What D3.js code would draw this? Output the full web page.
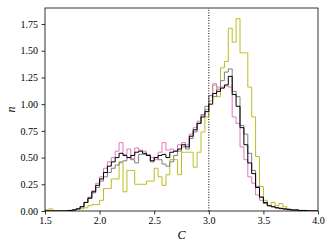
<!DOCTYPE html>
<html>
<head>
<meta charset="utf-8">
<script src="https://cdn.jsdelivr.net/npm/d3@7"></script>
<style>
  body { margin: 0; background: #fff; }
  svg { display: block; }
</style>
</head>
<body>
<div id="chart"></div>
<script>
var w = 332;
var h = 247;
var margin = { top: 8, right: 14, bottom: 36, left: 45 };

// histogram bins: 70 equal bins between 1.5 and 4.0
var binLo = 1.5;
var binHi = 4.0;
var nBins = 70;

var xTicks = [1.5, 2.0, 2.5, 3.0, 3.5, 4.0];
var yTicks = [0, 0.25, 0.5, 0.75, 1.0, 1.25, 1.5, 1.75];
var cutLine = 3.0;

// series values (density per bin)
var blackVals = [
  0, 0, 0, 0, 0, 0, 0.005, 0.01, 0.02, 0.04,
  0.08, 0.12, 0.18, 0.24, 0.30, 0.36, 0.42, 0.46, 0.50, 0.54,
  0.52, 0.50, 0.52, 0.55, 0.56, 0.54, 0.52, 0.47, 0.50, 0.52,
  0.53, 0.50, 0.55, 0.56, 0.58, 0.62, 0.60, 0.70, 0.76, 0.82,
  0.88, 0.93, 1.00, 1.10, 1.12, 1.15, 1.18, 1.26, 1.09, 0.98,
  0.78, 0.62, 0.45, 0.35, 0.22, 0.13, 0.08, 0.05, 0.04, 0.03,
  0.025, 0.02, 0.015, 0.01, 0.01, 0.005, 0.005, 0, 0, 0
];
var grayVals = [
  0, 0, 0, 0, 0, 0, 0.005, 0.01, 0.02, 0.04,
  0.08, 0.12, 0.17, 0.22, 0.28, 0.32, 0.36, 0.40, 0.43, 0.46,
  0.47, 0.50, 0.48, 0.45, 0.53, 0.53, 0.52, 0.46, 0.50, 0.48,
  0.44, 0.42, 0.46, 0.52, 0.56, 0.60, 0.58, 0.68, 0.74, 0.82,
  0.90, 0.98, 1.08, 1.07, 1.14, 1.22, 1.30, 1.33, 1.12, 1.07,
  0.80, 0.72, 0.54, 0.38, 0.23, 0.13, 0.07, 0.05, 0.04, 0.03,
  0.025, 0.02, 0.015, 0.01, 0.01, 0.005, 0.005, 0.005, 0, 0
];
var pinkVals = [
  0, 0, 0, 0, 0, 0.005, 0.005, 0.01, 0.02, 0.04,
  0.08, 0.13, 0.19, 0.26, 0.32, 0.40, 0.46, 0.50, 0.56, 0.64,
  0.53, 0.58, 0.49, 0.59, 0.57, 0.56, 0.53, 0.50, 0.48, 0.55,
  0.64, 0.57, 0.58, 0.56, 0.62, 0.64, 0.62, 0.72, 0.78, 0.84,
  0.90, 0.95, 1.08, 1.19, 1.16, 1.16, 1.17, 1.16, 0.88, 0.82,
  0.60, 0.48, 0.32, 0.26, 0.15, 0.10, 0.07, 0.05, 0.04, 0.03,
  0.02, 0.015, 0.01, 0.005, 0.005, 0, 0, 0, 0, 0
];
var oliveVals = [
  0.01, 0.02, 0, 0, 0, 0, 0.005, 0.01, 0.02, 0.02,
  0.03, 0.05, 0.06, 0.06, 0.10, 0.21, 0.21, 0.30, 0.30, 0.45,
  0.18, 0.38, 0.38, 0.25, 0.25, 0.25, 0.28, 0.28, 0.40, 0.32,
  0.24, 0.34, 0.48, 0.48, 0.34, 0.55, 0.55, 0.55, 0.41, 0.55,
  0.74, 0.88, 1.03, 1.18, 1.07, 1.34, 1.40, 1.71, 1.58, 1.80,
  1.48, 1.48, 1.16, 0.88, 0.51, 0.23, 0.10, 0.05, 0.08, 0.05,
  0.07, 0.04, 0.02, 0.01, 0.01, 0.005, 0, 0, 0, 0
];

var series = [
  { vals: oliveVals, color: "#bcbd22" },
  { vals: pinkVals, color: "#e377c2" },
  { vals: grayVals, color: "#7f7f7f" },
  { vals: blackVals, color: "#000000" }
];

var x = d3.scaleLinear().domain([1.5, 4.0]).range([margin.left, w - margin.right]);
var y = d3.scaleLinear().domain([0, 1.9]).range([h - margin.bottom, margin.top]);

var edges = d3.range(nBins + 1).map(function (i) {
  return binLo + (i * (binHi - binLo)) / nBins;
});

var svg = d3.select("#chart").append("svg")
  .attr("width", w)
  .attr("height", h);

svg.append("clipPath").attr("id", "clip")
  .append("rect")
  .attr("x", margin.left)
  .attr("y", margin.top)
  .attr("width", w - margin.left - margin.right)
  .attr("height", h - margin.top - margin.bottom);

// step outline like histtype='step'
var stepLine = d3.line()
  .x(function (d) { return x(d[0]); })
  .y(function (d) { return y(d[1]); })
  .curve(d3.curveStepAfter);

function stepPoints(vals) {
  var pts = [[edges[0], 0]];
  vals.forEach(function (v, i) { pts.push([edges[i], v]); });
  pts.push([edges[nBins], vals[nBins - 1]]);
  pts.push([edges[nBins], 0]);
  return pts;
}

svg.append("g").attr("clip-path", "url(#clip)")
  .selectAll("path")
  .data(series)
  .enter()
  .append("path")
  .attr("d", function (d) { return stepLine(stepPoints(d.vals)); })
  .attr("fill", "none")
  .attr("stroke", function (d) { return d.color; })
  .attr("stroke-width", 1)
  .attr("stroke-linejoin", "miter");

// dotted line at C = 3
svg.append("line")
  .attr("x1", x(cutLine))
  .attr("x2", x(cutLine))
  .attr("y1", y(0))
  .attr("y2", margin.top)
  .attr("stroke", "#000")
  .attr("stroke-width", 1)
  .attr("stroke-dasharray", "1,1.6");

// axes
var fontFam = "'Liberation Serif', 'DejaVu Serif', serif";

var xAxis = svg.append("g")
  .attr("transform", "translate(0," + (h - margin.bottom) + ")")
  .call(d3.axisBottom(x).tickValues(xTicks).tickFormat(d3.format(".1f")).tickSize(3.5).tickPadding(2.5));

var yAxis = svg.append("g")
  .attr("transform", "translate(" + margin.left + ",0)")
  .call(d3.axisLeft(y).tickValues(yTicks).tickFormat(d3.format(".2f")).tickSize(3.5).tickPadding(3.5));

[xAxis, yAxis].forEach(function (g) {
  g.select(".domain").remove();
  g.selectAll("line").attr("stroke", "#000").attr("stroke-width", 0.8);
  g.selectAll("text")
    .attr("font-family", fontFam)
    .attr("font-size", 10)
    .attr("fill", "#000");
});

// frame
svg.append("rect")
  .attr("x", margin.left)
  .attr("y", margin.top)
  .attr("width", w - margin.left - margin.right)
  .attr("height", h - margin.top - margin.bottom)
  .attr("fill", "none")
  .attr("stroke", "#000")
  .attr("stroke-width", 0.8);

// axis labels
svg.append("text")
  .text("C")
  .attr("x", (margin.left + w - margin.right) / 2)
  .attr("y", 239)
  .attr("text-anchor", "middle")
  .attr("font-family", fontFam)
  .attr("font-style", "italic")
  .attr("font-size", 12);

svg.append("text")
  .text("n")
  .attr("transform", "translate(15," + (margin.top + h - margin.bottom) / 2 + ") rotate(-90)")
  .attr("text-anchor", "middle")
  .attr("font-family", fontFam)
  .attr("font-style", "italic")
  .attr("font-size", 12);
</script>
</body>
</html>
